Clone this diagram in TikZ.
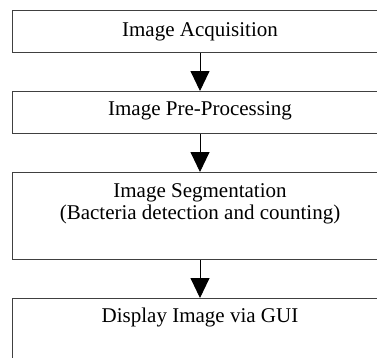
\documentclass[tikz,border=0pt]{standalone}
\usepackage{fontspec}
\setmainfont{Liberation Serif}
\usetikzlibrary{arrows.meta, positioning}

\begin{document}
\begin{tikzpicture}[x=1pt, y=-1pt,
    stage/.style={draw=black!75, line width=1pt, minimum width=376pt, inner sep=0pt, anchor=north},
    caption/.style={font=\fontsize{21}{22.5}\selectfont, align=center, inner sep=0pt},
    flow/.style={-{Triangle[width=19pt,length=20pt]}, line width=0.9pt}]
    \clip (0,0) rectangle (377,357);
    % the four stages
    \node[stage, minimum height=42pt] (acq) at (200,10) {};
    \node[stage, minimum height=42pt] (pre) at (200,91) {};
    \node[stage, minimum height=87pt] (seg) at (200,172) {};
    \node[stage, minimum height=90pt] (gui) at (200,298) {};
    % texts
    \node[caption, below=12pt of acq.north] (acqtext) {Image Acquisition};
    \node[caption, below=10pt of pre.north] (pretext) {Image Pre-Processing};
    \node[caption, below=11pt of seg.north] (segtext) {Image Segmentation\\(Bacteria detection and counting)};
    \node[caption, below=10pt of gui.north] (guitext) {Display Image via GUI};
    % arrows
    \draw[flow] (acq) -- (pre);
    \draw[flow] (pre) -- (seg);
    \draw[flow] (seg) -- (gui);
\end{tikzpicture}
\end{document}
